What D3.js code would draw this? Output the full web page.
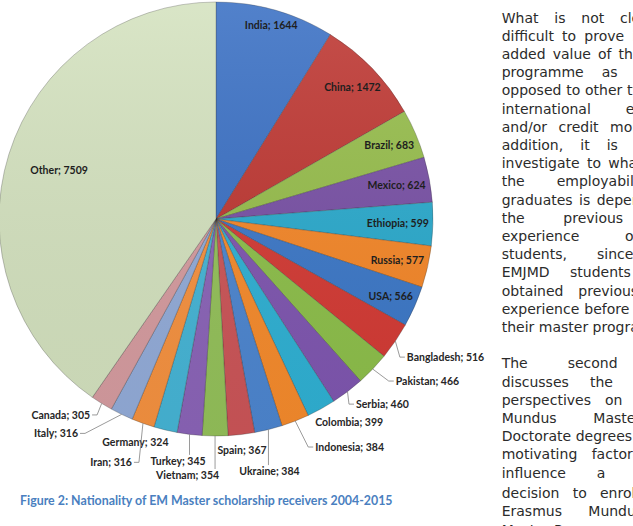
<!DOCTYPE html>
<html><head><meta charset="utf-8">
<script src="https://cdn.jsdelivr.net/npm/d3@7/dist/d3.min.js"></script>
<style>html,body{margin:0;padding:0;background:#fff;}svg{display:block;}</style>
</head><body>
<svg id="chart" width="633" height="526"></svg>
<script>
// ---------- data ----------
const countries = ["India","China","Brazil","Mexico","Ethiopia","Russia","USA","Bangladesh","Pakistan","Serbia","Colombia","Indonesia","Ukraine","Spain","Vietnam","Turkey","Germany","Iran","Italy","Canada","Other"];
const scholarships = [1644,1472,683,624,599,577,566,516,466,460,399,384,384,367,354,345,324,316,316,305,7509];
const caption = "Figure 2: Nationality of EM Master scholarship receivers 2004-2015";

// ---------- styles / layout ----------
const sliceColors = ["#3a70c4","#be3732","#96bd4b","#7850a5","#2aaacd","#f58728","#3c78c8","#d43a34","#8dbf4a","#7f56b0","#2fb1d4","#f68b2c","#4d86d0","#cc5558","#94c15a","#8b64b8","#46b5d6","#f69240","#93acd9","#d69ca0","#d4e2bf"];
const insideLabels = ["India","China","Brazil","Mexico","Ethiopia","Russia","USA"];
// anchor offsets from slice's outer midpoint: [dx, dy, text-anchor, leader?]
const outsideLabels = {
  Bangladesh:[11.5,16,"start",true], Pakistan:[23,12,"start",true], Serbia:[8.5,12.5,"start",true],
  Colombia:[-6,14,"start",false], Indonesia:[20,26,"start",true], Ukraine:[1,41.5,"middle",true],
  Spain:[0.6,15.5,"middle",false], Vietnam:[-27.5,39,"middle",true], Turkey:[-11.5,26.5,"middle",true],
  Germany:[-30,12,"middle",false], Iran:[-11,39,"end",true], Italy:[-43.6,19,"end",true], Canada:[-11.6,11.5,"end",true]
};

// body text: words, index k of a reference word, and its x (justified spacing derived from it)
const bodyLines = [
  {w:["What","is","not","clear"],k:3,x:620},
  {w:["difficult","to","prove","is"],k:2,x:584.3},
  {w:["added","value","of","the"],k:2,x:598},
  {w:["programme","as","such"],k:1,x:601.7},
  {w:["opposed","to","other","types"],k:2,x:585},
  {w:["international","education"],k:1,x:625.7},
  {w:["and/or","credit","mobility."],k:2,x:610},
  {w:["addition,","it","is","difficult"],k:2,x:606.7},
  {w:["investigate","to","what"],k:2,x:608.3},
  {w:["the","employability"],k:1,x:556.7},
  {w:["graduates","is","dependent"],k:2,x:596.7},
  {w:["the","previous","international"],k:1,x:563.3},
  {w:["experience","of"],k:1,x:625},
  {w:["students,","since","many"],k:1,x:597},
  {w:["EMJMD","students","have"],k:1,x:570},
  {w:["obtained","previous"],k:1,x:578.3},
  {w:["experience","before","starting"],k:1,x:584.3},
  {w:["their","master","programme."],k:0},
  null,
  {w:["The","second","chapter"],k:1,x:567.7},
  {w:["discusses","the","students'"],k:1,x:590},
  {w:["perspectives","on","Erasmus"],k:1,x:605},
  {w:["Mundus","Master","and"],k:1,x:593.3},
  {w:["Doctorate","degrees","and"],k:0},
  {w:["motivating","factors","that"],k:1,x:591.7},
  {w:["influence","a","student's"],k:1,x:596.7},
  {w:["decision","to","enrol","in"],k:2,x:600},
  {w:["Erasmus","Mundus"],k:1,x:588.3},
  {w:["Master","Programmes"],k:0}
];

const W = 633, H = 526;
const cx = 216, cy = 219, R = 217;
const svg = d3.select("#chart");
svg.append("rect").attr("width",W).attr("height",H).attr("fill","#fff");

const data = countries.map((c,i)=>({name:c, value:scholarships[i], color:sliceColors[i]}));
const pie = d3.pie().sort(null).value(d=>d.value).startAngle(0).endAngle(2*Math.PI);
const arcs = pie(data);
const arc = d3.arc().innerRadius(0).outerRadius(R);

const defs = svg.append("defs");
const lg = defs.append("linearGradient").attr("id","shade").attr("x1","0").attr("y1","0").attr("x2","0").attr("y2","1");
lg.append("stop").attr("offset","0%").attr("stop-color","#fff").attr("stop-opacity",0.12);
lg.append("stop").attr("offset","100%").attr("stop-color","#000").attr("stop-opacity",0.05);

const g = svg.append("g").attr("transform",`translate(${cx},${cy})`);
g.selectAll("path.slice").data(arcs).join("path").attr("class","slice")
  .attr("d",arc).attr("fill",d=>d.data.color)
  .attr("stroke","rgba(40,40,40,0.35)").attr("stroke-width",0.8);
g.append("circle").attr("r",R).attr("fill","url(#shade)").attr("pointer-events","none");

const labelFont = "Lato, 'Liberation Sans', sans-serif";
function outerPoint(d, r){ const a=(d.startAngle+d.endAngle)/2; return [Math.sin(a)*r, -Math.cos(a)*r, a]; }

// inside-end labels
arcs.forEach(d=>{
  if(insideLabels.includes(d.data.name)){
    const t = g.append("text").text(`${d.data.name}; ${d.data.value}`)
      .attr("font-family",labelFont).attr("font-size",10.5).attr("font-weight",700)
      .attr("fill","#1e1e1e").attr("text-anchor","middle").attr("dy","0.35em");
    const w = t.node().getComputedTextLength(), h = 9;
    const a=(d.startAngle+d.endAngle)/2, s=Math.sin(a), c=-Math.cos(a);
    const r = R - 4 - (Math.abs(s)*w/2 + Math.abs(c)*h/2);
    t.attr("x", s*r).attr("y", c*r);
  } else if(d.data.name==="Other"){
    const [x,y] = outerPoint(d, R*0.758);
    g.append("text").text(`${d.data.name}; ${d.data.value}`)
      .attr("font-family",labelFont).attr("font-size",10.5).attr("font-weight",700)
      .attr("fill","#1e1e1e").attr("text-anchor","middle").attr("dy","0.35em")
      .attr("x",x).attr("y",y);
  }
});

// outside labels with leader lines
arcs.forEach(d=>{
  const cfg = outsideLabels[d.data.name]; if(!cfg) return;
  const [px,py] = outerPoint(d, R);
  const ax = px+cfg[0], ay = py+cfg[1];
  const t = g.append("text").text(`${d.data.name}; ${d.data.value}`)
    .attr("font-family",labelFont).attr("font-size",10.5).attr("font-weight",700)
    .attr("fill","#262626").attr("text-anchor",cfg[2]).attr("dy","0.35em")
    .attr("x",ax).attr("y",ay);
  if(!cfg[3]) return;
  const w = t.node().getComputedTextLength();
  const x0 = cfg[2]==="start"?ax:cfg[2]==="end"?ax-w:ax-w/2, x1 = x0+w;
  const y0 = ay-5, pts=[[px,py]];
  if(px < x0-2){ pts.push([x0-7,ay],[x0-2,ay]); }
  else if(px > x1+2){ pts.push([x1+7,ay],[x1+2,ay]); }
  else { pts.push([px, y0-1]); }
  g.append("path").attr("d",d3.line()(pts)).attr("fill","none")
    .attr("stroke","#808080").attr("stroke-width",0.8);
});

// caption
const cap = svg.append("text").text(caption).attr("x",20).attr("y",505)
  .attr("font-family",labelFont).attr("font-weight",700).attr("font-size",12.5).attr("fill","#4a7fc0");
const cw = cap.node().getComputedTextLength();
cap.attr("font-size", 12.5*373/cw);

// body text column (justified, clipped by the page edge)
const body = svg.append("g").attr("font-family","'DejaVu Sans', Verdana, sans-serif").attr("font-size",14).attr("fill","#2b2b2b");
const x0Body = 501.7;
bodyLines.forEach((ln,i)=>{
  if(!ln) return;
  const y = i<=25 ? 22.5 + i*18.2 : [498,516.3,534.6][i-26];
  const nodes = ln.w.map(word=>body.append("text").attr("y",y).text(word));
  const widths = nodes.map(n=>n.node().getComputedTextLength());
  let gap = 4.45;
  if(ln.k>0){ gap = Math.max(4.45,(ln.x - x0Body - d3.sum(widths.slice(0,ln.k)))/ln.k); }
  let x = x0Body;
  nodes.forEach((n,j)=>{ n.attr("x",x); x += widths[j] + gap; });
});
</script>
</body></html>
